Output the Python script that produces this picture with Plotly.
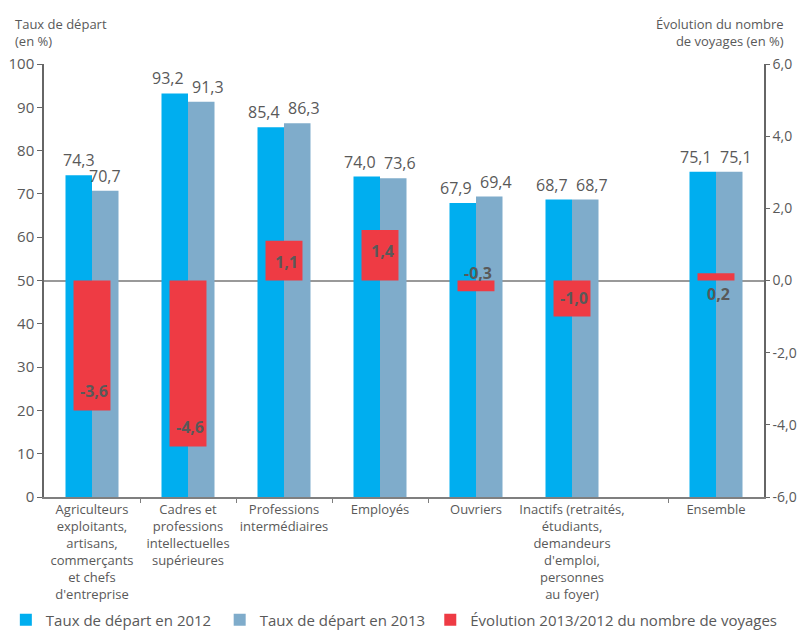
import plotly.graph_objects as go

# ---- data ----
categories = [
    "Agriculteurs<br>exploitants,<br>artisans,<br>commerçants<br>et chefs<br>d'entreprise",
    "Cadres et<br>professions<br>intellectuelles<br>supérieures",
    "Professions<br>intermédiaires",
    "Employés",
    "Ouvriers",
    "Inactifs (retraités,<br>étudiants,<br>demandeurs<br>d'emploi,<br>personnes<br>au foyer)",
    "Ensemble",
]
slots = [0, 1, 2, 3, 4, 5, 6.5]
taux_2012 = [74.3, 93.2, 85.4, 74.0, 67.9, 68.7, 75.1]
taux_2013 = [70.7, 91.3, 86.3, 73.6, 69.4, 68.7, 75.1]
evolution = [-3.6, -4.6, 1.1, 1.4, -0.3, -1.0, 0.2]
left_ticks = [0, 10, 20, 30, 40, 50, 60, 70, 80, 90, 100]
right_ticks = [-6, -4, -2, 0, 2, 4, 6]
series_names = ["Taux de départ en 2012", "Taux de départ en 2013",
                "Évolution 2013/2012 du nombre de voyages"]

BLUE = "#00AEEF"
LIGHT = "#7FACCB"
RED = "#EE3B44"
GREY = "#595959"
FONT = "Open Sans"


def fr(v):
    return f"{v:.1f}".replace(".", ",")


bw = 0.276
fig = go.Figure()
fig.add_trace(go.Bar(x=slots, y=taux_2012, width=bw, offset=-bw, marker_color=BLUE,
                     marker_line_width=0, name=series_names[0], legend="legend"))
fig.add_trace(go.Bar(x=slots, y=taux_2013, width=bw, offset=0, marker_color=LIGHT,
                     marker_line_width=0, name=series_names[1], legend="legend2"))
fig.add_trace(go.Bar(x=slots, y=evolution, width=0.385, offset=-0.1925, marker_color=RED,
                     marker_line_width=0, yaxis="y2", name=series_names[2], legend="legend3"))

annotations = []
for s, a, b in zip(slots, taux_2012, taux_2013):
    shift = 7 if abs(a - b) < 3 else 0
    annotations.append(dict(x=s - bw / 2, y=a, xref="x", yref="y", text=fr(a), showarrow=False,
                            yanchor="bottom", yshift=2, xshift=-shift,
                            font=dict(family=FONT, size=16, color=GREY)))
    annotations.append(dict(x=s + bw / 2, y=b, xref="x", yref="y", text=fr(b), showarrow=False,
                            yanchor="bottom", yshift=2, xshift=shift,
                            font=dict(family=FONT, size=16, color=GREY)))

for s, v in zip(slots, evolution):
    if abs(v) < 0.5:
        ys = 8 if v < 0 else -13
        annotations.append(dict(x=s, y=0, xref="x", yref="y2", text=f"<b>{fr(v)}</b>", showarrow=False,
                                yanchor="middle", yshift=ys, xshift=2,
                                font=dict(family=FONT, size=16, color=GREY)))
    elif v < 0:
        annotations.append(dict(x=s, y=v, xref="x", yref="y2", text=f"<b>{fr(v)}</b>", showarrow=False,
                                yanchor="bottom", yshift=6, xshift=2,
                                font=dict(family=FONT, size=16, color=GREY)))
    else:
        annotations.append(dict(x=s, y=v, xref="x", yref="y2", text=f"<b>{fr(v)}</b>", showarrow=False,
                                yanchor="top", yshift=-8, xshift=2,
                                font=dict(family=FONT, size=16, color=GREY)))

annotations.append(dict(x=-0.043, y=1.118, xref="paper", yref="paper", xanchor="left", yanchor="top",
                        align="left", showarrow=False, text="Taux de départ<br>(en %)",
                        font=dict(family=FONT, size=13, color=GREY)))
annotations.append(dict(x=1.0306, y=1.118, xref="paper", yref="paper", xanchor="right", yanchor="top",
                        align="right", showarrow=False, text="Évolution du nombre<br>de voyages (en %)",
                        font=dict(family=FONT, size=13, color=GREY)))

leg_common = dict(orientation="h", y=-0.284, xanchor="left", yanchor="middle",
                  font=dict(family=FONT, size=15, color=GREY), bgcolor="rgba(0,0,0,0)")

fig.update_layout(
    width=797, height=630,
    margin=dict(l=44, r=33, t=64, b=133, autoexpand=False),
    paper_bgcolor="white", plot_bgcolor="white",
    barmode="overlay",
    separators=", ",
    font=dict(family=FONT, color=GREY),
    showlegend=True,
    legend=dict(x=-0.053, **leg_common),
    legend2=dict(x=0.244, **leg_common),
    legend3=dict(x=0.5365, **leg_common),
    annotations=annotations,
    xaxis=dict(range=[-0.5, 7.0], tickmode="array", tickvals=slots, ticktext=categories,
               ticks="", showgrid=False, zeroline=False, showline=True, linecolor="#7f7f7f",
               linewidth=1.5, automargin=False, tickfont=dict(family=FONT, size=13, color=GREY),
               minor=dict(tickmode="array", tickvals=[0.5, 1.5, 2.5, 3.5, 6.0], ticks="outside",
                          ticklen=4, tickcolor="#7f7f7f", tickwidth=1, showgrid=False)),
    yaxis=dict(range=[0, 100], tickmode="array", tickvals=left_ticks,
               ticktext=[str(t) for t in left_ticks], ticks="outside", ticklen=5,
               tickcolor="#666666", showgrid=False, zeroline=False, showline=True,
               linecolor="#666666", linewidth=1.5, automargin=False,
               tickfont=dict(family=FONT, size=15, color=GREY)),
    yaxis2=dict(range=[-6, 6], overlaying="y", side="right", tickmode="array",
                tickvals=right_ticks, ticktext=[fr(t) for t in right_ticks],
                ticks="outside", ticklen=4, tickcolor="#666666", showgrid=False,
                zeroline=True, zerolinecolor="#999999", zerolinewidth=2,
                showline=True, linecolor="#666666", linewidth=1.5, automargin=False,
                tickfont=dict(family=FONT, size=14, color=GREY)),
)

# remove the page's default body margin so the figure fills the 797x630 window exactly
fig.write_html(
    "out.html",
    config={"displayModeBar": False},
    post_script="document.documentElement.style.overflow='hidden';"
                "document.body.style.margin='0';document.body.style.overflow='hidden';",
)
